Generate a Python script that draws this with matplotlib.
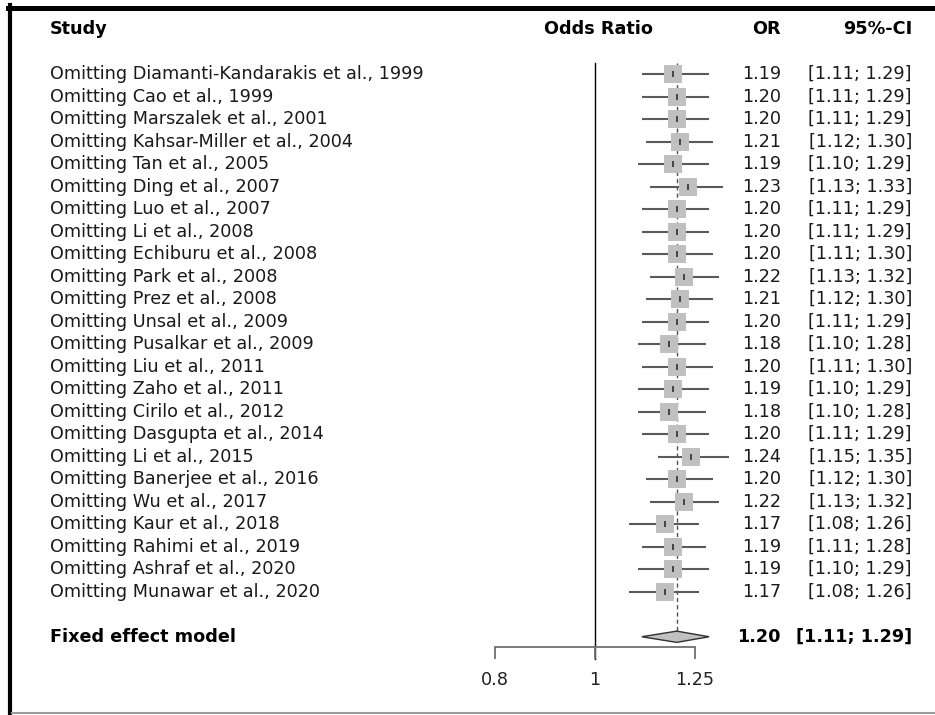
import numpy as np
import matplotlib
matplotlib.use("Agg")
import matplotlib.pyplot as plt
import matplotlib.transforms as mtransforms
from matplotlib.ticker import NullLocator, FixedLocator, FixedFormatter

# leave-one-out results
studies = [
    "Diamanti-Kandarakis et al., 1999", "Cao et al., 1999", "Marszalek et al., 2001",
    "Kahsar-Miller et al., 2004", "Tan et al., 2005", "Ding et al., 2007",
    "Luo et al., 2007", "Li et al., 2008", "Echiburu et al., 2008", "Park et al., 2008",
    "Prez et al., 2008", "Unsal et al., 2009", "Pusalkar et al., 2009", "Liu et al., 2011",
    "Zaho et al., 2011", "Cirilo et al., 2012", "Dasgupta et al., 2014", "Li et al., 2015",
    "Banerjee et al., 2016", "Wu et al., 2017", "Kaur et al., 2018", "Rahimi et al., 2019",
    "Ashraf et al., 2020", "Munawar et al., 2020",
]
or_est = [1.19, 1.20, 1.20, 1.21, 1.19, 1.23, 1.20, 1.20, 1.20, 1.22, 1.21, 1.20,
          1.18, 1.20, 1.19, 1.18, 1.20, 1.24, 1.20, 1.22, 1.17, 1.19, 1.19, 1.17]
ci_low = [1.11, 1.11, 1.11, 1.12, 1.10, 1.13, 1.11, 1.11, 1.11, 1.13, 1.12, 1.11,
          1.10, 1.11, 1.10, 1.10, 1.11, 1.15, 1.12, 1.13, 1.08, 1.11, 1.10, 1.08]
ci_high = [1.29, 1.29, 1.29, 1.30, 1.29, 1.33, 1.29, 1.29, 1.30, 1.32, 1.30, 1.29,
           1.28, 1.30, 1.29, 1.28, 1.29, 1.35, 1.30, 1.32, 1.26, 1.28, 1.29, 1.26]
fixed_or, fixed_lo, fixed_hi = 1.20, 1.11, 1.29
xticks = [0.8, 1, 1.25]
xticklabels = ["0.8", "1", "1.25"]

W, H = 935, 715
FS = 12.7

# pixel layout of the original
px_per_log = 448.1      # pixels per unit of ln(OR)
px_one = 595            # pixel x of OR = 1
row0_px, row_step = 74, 22.51


def row_of(py):
    return 1 + (py - row0_px) / row_step


fig = plt.figure(figsize=(W / 100, H / 100), dpi=100)
ax = fig.add_axes([0, 0, 1, 1])
ax.set_xscale("log")
ax.set_xlim(np.exp(-px_one / px_per_log), np.exp((W - px_one) / px_per_log))
ax.set_ylim(row_of(H), row_of(0))
ax.patch.set_visible(False)
for s in ["top", "left", "right"]:
    ax.spines[s].set_visible(False)
ax.yaxis.set_visible(False)

# x axis at the bottom of the forest
ax.spines["bottom"].set_position(("data", row_of(647)))
ax.spines["bottom"].set_bounds(xticks[0], xticks[-1])
ax.spines["bottom"].set_color("#707070")
ax.spines["bottom"].set_linewidth(1.3)
ax.xaxis.set_major_locator(FixedLocator(xticks))
ax.xaxis.set_major_formatter(FixedFormatter(xticklabels))
ax.xaxis.set_minor_locator(NullLocator())
ax.tick_params(axis="x", direction="out", length=8.5, width=1.3, color="#707070",
               labelsize=FS, labelcolor="#222222", pad=9)

rows = np.arange(1, len(studies) + 1)
fixed_row = len(studies) + 2
tr = mtransforms.blended_transform_factory(ax.transAxes, ax.transData)

# reference lines
ax.plot([1, 1], [0.5, row_of(659)], color="black", lw=1.0, zorder=1)
ax.plot([fixed_or, fixed_or], [0.5, fixed_row - 0.245], color="#505050", lw=1.0,
        linestyle=(0, (3, 2.2)), zorder=1)

# study rows
ax.hlines(rows, ci_low, ci_high, color="#5a5a5a", lw=1.5, zorder=2)
ax.scatter(or_est, rows, marker="s", s=155, color="#c0c0c0", linewidths=0, zorder=3)
ax.scatter(or_est, rows, marker="|", s=18, color="#303030", linewidths=1.2, zorder=4)

# fixed effect diamond
ax.fill([fixed_lo, fixed_or, fixed_hi, fixed_or],
        [fixed_row, fixed_row - 0.25, fixed_row, fixed_row + 0.25],
        facecolor="#c0c0c0", edgecolor="#303030", lw=1.0, zorder=3)

# text columns
x_lab, x_or, x_ci = 50 / W, 781 / W, 912 / W
ax.text(x_lab, -1, "Study", transform=tr, fontsize=FS, fontweight="bold", va="center")
ax.text(599 / W, -1, "Odds Ratio", transform=tr, fontsize=FS, fontweight="bold",
        va="center", ha="center")
ax.text(x_or, -1, "OR", transform=tr, fontsize=FS, fontweight="bold", va="center", ha="right")
ax.text(x_ci, -1, "95%-CI", transform=tr, fontsize=FS, fontweight="bold", va="center", ha="right")

for r, name, o, lo, hi in zip(rows, studies, or_est, ci_low, ci_high):
    ax.text(x_lab, r, "Omitting " + name, transform=tr, fontsize=FS, va="center",
            color="#1a1a1a")
    ax.text(x_or, r, f"{o:.2f}", transform=tr, fontsize=FS, va="center", ha="right",
            color="#1a1a1a")
    ax.text(x_ci, r, f"[{lo:.2f}; {hi:.2f}]", transform=tr, fontsize=FS, va="center",
            ha="right", color="#1a1a1a")

ax.text(x_lab, fixed_row, "Fixed effect model", transform=tr, fontsize=FS,
        fontweight="bold", va="center")
ax.text(x_or, fixed_row, f"{fixed_or:.2f}", transform=tr, fontsize=FS,
        fontweight="bold", va="center", ha="right")
ax.text(x_ci, fixed_row, f"[{fixed_lo:.2f}; {fixed_hi:.2f}]", transform=tr,
        fontsize=FS, fontweight="bold", va="center", ha="right")

# frame around the picture (screenshot border)
fig.add_artist(plt.Line2D([10 / W, 10 / W], [1 - 5 / H, 1 - 713 / H], color="black",
                          lw=3.0, transform=fig.transFigure))
fig.add_artist(plt.Line2D([8 / W, 1], [1 - 7.5 / H, 1 - 7.5 / H], color="black",
                          lw=3.6, transform=fig.transFigure))
fig.add_artist(plt.Line2D([12 / W, 1], [1 - 713 / H, 1 - 713 / H], color="#9a9a9a",
                          lw=1.5, transform=fig.transFigure))

fig.savefig("out.png", dpi=100, facecolor="white")
